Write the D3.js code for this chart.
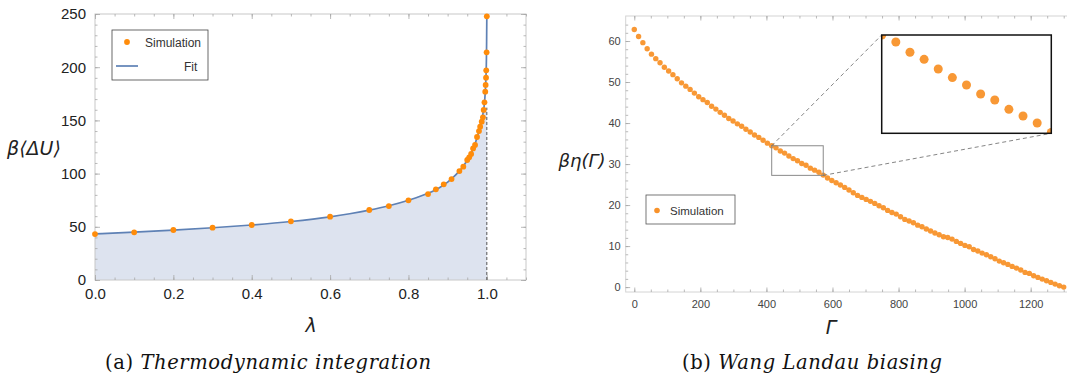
<!DOCTYPE html>
<html><head><meta charset="utf-8">
<script src="https://cdn.jsdelivr.net/npm/d3@7"></script>
<style>body{margin:0;background:#fff}svg{display:block}</style>
</head><body>
<svg id="c" width="1067" height="381"></svg>
<script>
// ---------- data: (a) thermodynamic integration ----------
const simLambda = [0,0.1,0.2,0.3,0.4,0.5,0.6,0.7,0.75,0.8,0.85,0.87,0.89,0.91,0.93,0.94,0.95,0.955,0.96,0.965,0.97,0.975,0.98,0.983,0.987,0.99,0.992,0.994,0.996,0.997,0.998,0.9985,0.9995,1.0];
const simDU = [43.2,44.8,47.0,49.2,51.7,55.1,59.5,65.8,69.5,74.9,80.8,85.2,89.9,94.9,102.4,106.5,112.8,115.3,118.4,123.7,126.9,134.4,140.0,144.1,148.8,152.9,159.8,167.0,177.0,183.3,190.2,197.1,214.0,247.8];
const fitLambda = [0,0.1,0.2,0.3,0.4,0.5,0.6,0.65,0.7,0.75,0.8,0.85,0.88,0.9,0.92,0.94,0.95,0.96,0.97,0.98,0.985,0.99,0.993,0.995,0.997,0.998,0.999,0.9995,1.0];
const fitDU = [43.4,45.0,46.9,49.1,51.7,55.0,59.4,62.3,65.7,69.8,75.0,81.5,87.0,92.0,98.5,107.0,112.5,119.0,128.0,140.0,147.0,156.0,163.0,171.0,183.0,192.0,208.0,224.0,248.0];
const fillTop = 162;
const leftXTicks = [0,0.2,0.4,0.6,0.8,1.0];
const leftYTicks = [0,50,100,150,200,250];

// ---------- data: (b) Wang Landau biasing ----------
const gammaVals = [0,13,26,39,52,65,78,91,104,117,130,143,156,169,182,195,208,221,234,247,260,273,286,299,312,325,338,351,364,377,390,403,416,429,442,455,468,481,494,507,520,533,546,559,572,585,598,611,624,637,650,663,676,689,702,715,728,741,754,767,780,793,806,819,832,845,858,871,884,897,910,923,936,949,962,975,988,1001,1014,1027,1040,1053,1066,1079,1092,1105,1118,1131,1144,1157,1170,1183,1196,1209,1222,1235,1248,1261,1274,1287,1300];
const etaVals = [62.8,61.1,59.6,58.1,56.8,55.7,54.7,53.6,52.7,51.8,50.8,49.8,49.0,48.2,47.3,46.4,45.7,45.0,44.1,43.4,42.6,41.9,41.1,40.5,39.8,39.2,38.5,37.8,37.1,36.5,35.8,35.1,34.46,33.95,33.19,32.67,31.96,31.33,30.79,30.13,29.69,29.0,28.51,28.0,27.3,26.6,26.0,25.44,24.88,24.3,23.66,23.0,22.36,21.87,21.38,20.9,20.4,19.84,19.35,18.7,18.2,17.8,17.15,16.5,16.1,15.7,15.1,14.7,14.15,13.66,13.17,12.76,12.27,12.1,11.7,11.14,10.65,10.16,9.83,9.18,8.78,8.29,7.88,7.4,6.9,6.34,5.93,5.53,5.04,4.63,4.15,3.58,3.33,2.76,2.36,1.95,1.54,1.14,0.73,0.32,0.0];
const rightXTicks = [0,200,400,600,800,1000,1200];
const rightYTicks = [0,10,20,30,40,50,60];
const zoomGamma = [416,572];
const zoomEta = [27.24,34.46];

const svg = d3.select("#c");
const frameCol = "#c8c8c8", tickCol = "#a8a8a8";

function styleAxis(g, fs, col){
  g.select(".domain").remove();
  g.selectAll(".tick line").attr("stroke", tickCol).attr("stroke-width",0.8);
  g.selectAll(".tick text").attr("font-family","'Liberation Sans',Arial,sans-serif").attr("font-size",fs).attr("fill",col);
}

// ================= left chart =================
const xL = d3.scaleLinear([0,1.1],[95,526]);
const yL = d3.scaleLinear([0,250],[280,14]);
const L = svg.append("g");
const fitPts = fitLambda.map((l,i)=>[l,fitDU[i]]);
const fillPts = fitPts.filter(p=>p[1]<=fillTop).concat([[1.0,fillTop]]);
L.append("path")
  .datum(fillPts)
  .attr("fill","#dde3ef")
  .attr("d", d3.area().x(d=>xL(d[0])).y0(yL(0)).y1(d=>yL(d[1])));
// frame
L.append("rect").attr("x",xL(0)).attr("y",yL(250)).attr("width",xL(1.1)-xL(0)).attr("height",yL(0)-yL(250))
  .attr("fill","none").attr("stroke",frameCol).attr("stroke-width",1);
const minorLX = d3.range(0,1.1001,0.05), minorLY = d3.range(0,250.1,10);
L.append("g").attr("transform",`translate(0,${yL(0)})`).call(d3.axisBottom(xL).tickValues(minorLX).tickSize(-2.5).tickSizeOuter(0).tickFormat("")).call(g=>styleAxis(g,15,"#222"));
L.append("g").attr("transform",`translate(0,${yL(0)})`).call(d3.axisBottom(xL).tickValues(leftXTicks).tickSize(-5).tickSizeOuter(0).tickPadding(8).tickFormat(d3.format(".1f"))).call(g=>styleAxis(g,15,"#222"));
L.append("g").attr("transform",`translate(0,${yL(250)})`).call(d3.axisTop(xL).tickValues(minorLX).tickSize(-2.5).tickSizeOuter(0).tickFormat("")).call(g=>styleAxis(g,15,"#222"));
L.append("g").attr("transform",`translate(0,${yL(250)})`).call(d3.axisTop(xL).tickValues(leftXTicks).tickSize(-5).tickSizeOuter(0).tickFormat("")).call(g=>styleAxis(g,15,"#222"));
L.append("g").attr("transform",`translate(${xL(0)},0)`).call(d3.axisLeft(yL).tickValues(minorLY).tickSize(-2.5).tickSizeOuter(0).tickFormat("")).call(g=>styleAxis(g,15,"#222"));
L.append("g").attr("transform",`translate(${xL(0)},0)`).call(d3.axisLeft(yL).tickValues(leftYTicks).tickSize(-5).tickSizeOuter(0).tickPadding(9)).call(g=>styleAxis(g,15,"#222"));
L.append("g").attr("transform",`translate(${xL(1.1)},0)`).call(d3.axisRight(yL).tickValues(minorLY).tickSize(-2.5).tickSizeOuter(0).tickFormat("")).call(g=>styleAxis(g,15,"#222"));
L.append("g").attr("transform",`translate(${xL(1.1)},0)`).call(d3.axisRight(yL).tickValues(leftYTicks).tickSize(-5).tickSizeOuter(0).tickFormat("")).call(g=>styleAxis(g,15,"#222"));
// dashed asymptote
L.append("line").attr("x1",xL(1)).attr("x2",xL(1)).attr("y1",yL(0)).attr("y2",yL(fillTop))
  .attr("stroke","#555").attr("stroke-width",1).attr("stroke-dasharray","3,2");
// fit line
L.append("path").datum(fitPts).attr("fill","none").attr("stroke","#5e81b5").attr("stroke-width",1.7)
  .attr("d", d3.line().curve(d3.curveMonotoneX).x(d=>xL(d[0])).y(d=>yL(d[1])));
// sim points
L.append("g").selectAll("circle").data(simLambda.map((l,i)=>[l,simDU[i]])).join("circle")
  .attr("cx",d=>xL(d[0])).attr("cy",d=>yL(d[1])).attr("r",2.9).attr("fill","#ff8c0a");
// legend
L.append("rect").attr("x",112).attr("y",30).attr("width",96).attr("height",50).attr("fill","#fff").attr("stroke","#444").attr("stroke-width",0.8);
L.append("circle").attr("cx",127).attr("cy",42).attr("r",2.9).attr("fill","#ff8c0a");
L.append("text").attr("x",145).attr("y",46.5).text("Simulation").attr("font-family","'Liberation Sans',Arial,sans-serif").attr("font-size",12).attr("fill","#333");
L.append("line").attr("x1",116).attr("x2",138).attr("y1",66).attr("y2",66).attr("stroke","#5e81b5").attr("stroke-width",1.7);
L.append("text").attr("x",184).attr("y",71).text("Fit").attr("font-family","'Liberation Sans',Arial,sans-serif").attr("font-size",12).attr("fill","#333");
// axis labels
L.append("text").attr("x",34).attr("y",155).attr("text-anchor","middle").text("β⟨ΔU⟩")
  .attr("font-family","'DejaVu Sans',sans-serif").attr("font-style","italic").attr("font-size",19).attr("fill","#222");
L.append("text").attr("x",311).attr("y",332).attr("text-anchor","middle").text("λ")
  .attr("font-family","'DejaVu Sans',sans-serif").attr("font-style","italic").attr("font-size",19).attr("fill","#222");

// ================= right chart =================
const xR = d3.scaleLinear([-26,1326],[625.7,1072.3]);
const yR = d3.scaleLinear([-1.2,66.1],[292,16]);
const R = svg.append("g");
R.append("rect").attr("x",xR(-26)).attr("y",yR(66.1)).attr("width",xR(1326)-xR(-26)).attr("height",yR(-1.2)-yR(66.1))
  .attr("fill","none").attr("stroke","#d4d4d4").attr("stroke-width",1);
const minorRX = d3.range(0,1301,50), minorRY = d3.range(0,66,2);
R.append("g").attr("transform",`translate(0,${yR(-1.2)})`).call(d3.axisBottom(xR).tickValues(minorRX).tickSize(-2.5).tickSizeOuter(0).tickFormat("")).call(g=>styleAxis(g,11,"#444"));
R.append("g").attr("transform",`translate(0,${yR(-1.2)})`).call(d3.axisBottom(xR).tickValues(rightXTicks).tickSize(-4.5).tickSizeOuter(0).tickPadding(8).tickFormat(d3.format("d"))).call(g=>styleAxis(g,11,"#444"));
R.append("g").attr("transform",`translate(0,${yR(66.1)})`).call(d3.axisTop(xR).tickValues(minorRX).tickSize(-2.5).tickSizeOuter(0).tickFormat("")).call(g=>styleAxis(g,11,"#444"));
R.append("g").attr("transform",`translate(0,${yR(66.1)})`).call(d3.axisTop(xR).tickValues(rightXTicks).tickSize(-4.5).tickSizeOuter(0).tickFormat("")).call(g=>styleAxis(g,11,"#444"));
R.append("g").attr("transform",`translate(${xR(-26)},0)`).call(d3.axisLeft(yR).tickValues(minorRY).tickSize(-2.5).tickSizeOuter(0).tickFormat("")).call(g=>styleAxis(g,11,"#444"));
R.append("g").attr("transform",`translate(${xR(-26)},0)`).call(d3.axisLeft(yR).tickValues(rightYTicks).tickSize(-4.5).tickSizeOuter(0).tickPadding(5).tickFormat(d3.format("d"))).call(g=>styleAxis(g,11,"#444"));

const etaPts = gammaVals.map((g,i)=>[g,etaVals[i]]);
R.append("g").selectAll("circle").data(etaPts).join("circle")
  .attr("cx",d=>xR(d[0])).attr("cy",d=>yR(d[1])).attr("r",2.7).attr("fill","#f8922a").attr("fill-opacity",0.95);

// zoom box
const zx0 = xR(zoomGamma[0]), zx1 = xR(zoomGamma[1]), zy0 = yR(zoomEta[1]), zy1 = yR(zoomEta[0]);
R.append("rect").attr("x",zx0).attr("y",zy0).attr("width",zx1-zx0).attr("height",zy1-zy0)
  .attr("fill","none").attr("stroke","#8a8a8a").attr("stroke-width",1);
// inset
const ix0 = 881.7, ix1 = 1051.3, iy0 = 35, iy1 = 133.3;
const xI = d3.scaleLinear(zoomGamma,[ix0,ix1]);
const yI = d3.scaleLinear(zoomEta,[iy1,iy0]);
R.append("line").attr("x1",zx0).attr("y1",zy0).attr("x2",ix0).attr("y2",iy0)
  .attr("stroke","#666").attr("stroke-width",0.8).attr("stroke-dasharray","4,3");
R.append("line").attr("x1",zx1).attr("y1",zy1).attr("x2",ix1).attr("y2",iy1)
  .attr("stroke","#666").attr("stroke-width",0.8).attr("stroke-dasharray","4,3");
R.append("rect").attr("x",ix0).attr("y",iy0).attr("width",ix1-ix0).attr("height",iy1-iy0).attr("fill","#fff");
svg.append("defs").append("clipPath").attr("id","insetClip").append("rect")
  .attr("x",ix0).attr("y",iy0).attr("width",ix1-ix0).attr("height",iy1-iy0);
R.append("g").attr("clip-path","url(#insetClip)").selectAll("circle")
  .data(etaPts.filter(d=>d[0]>=zoomGamma[0]-20 && d[0]<=zoomGamma[1]+20)).join("circle")
  .attr("cx",d=>xI(d[0])).attr("cy",d=>yI(d[1])).attr("r",4.5).attr("fill","#f8922a").attr("fill-opacity",0.95);
R.append("rect").attr("x",ix0).attr("y",iy0).attr("width",ix1-ix0).attr("height",iy1-iy0)
  .attr("fill","none").attr("stroke","#111").attr("stroke-width",1.5);

// legend
R.append("rect").attr("x",646).attr("y",195).attr("width",89).attr("height",29).attr("fill","#fff").attr("stroke","#555").attr("stroke-width",0.8);
R.append("circle").attr("cx",657).attr("cy",210.5).attr("r",2.8).attr("fill","#f8922a");
R.append("text").attr("x",670).attr("y",214.5).text("Simulation").attr("font-family","'Liberation Sans',Arial,sans-serif").attr("font-size",11.5).attr("fill","#333");
// axis labels
R.append("text").attr("x",582).attr("y",167).attr("text-anchor","middle").text("βη(Γ)")
  .attr("font-family","'DejaVu Sans',sans-serif").attr("font-style","italic").attr("font-size",18).attr("fill","#222");
R.append("text").attr("x",831).attr("y",334).attr("text-anchor","middle").text("Γ")
  .attr("font-family","'DejaVu Sans',sans-serif").attr("font-style","italic").attr("font-size",19).attr("fill","#222");

// captions
function caption(x, tag, title){
  const t = svg.append("text").attr("x",x).attr("y",369).attr("font-family","'DejaVu Serif',serif").attr("font-size",19.5).attr("letter-spacing",0.6).attr("fill","#111");
  t.append("tspan").text(tag+" ");
  t.append("tspan").attr("font-style","italic").text(title);
}
caption(105,"(a)","Thermodynamic integration");
caption(682,"(b)","Wang Landau biasing");
</script>
</body></html>
